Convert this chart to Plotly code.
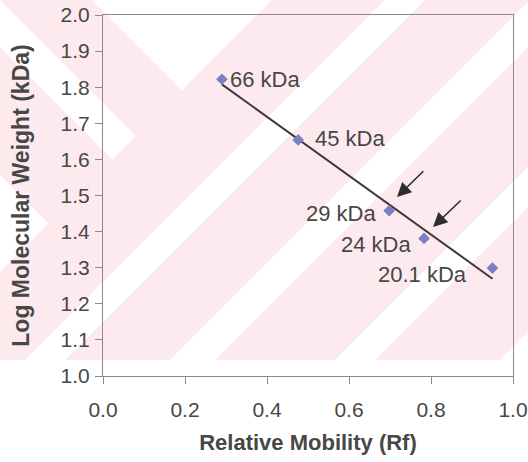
import numpy as np
import plotly.graph_objects as go

# ---- data ----
rf = [0.290, 0.476, 0.698, 0.783, 0.950]
log_mw = [1.822, 1.654, 1.458, 1.381, 1.299]
labels = ["66 kDa", "45 kDa", "29 kDa", "24 kDa", "20.1 kDa"]
x_ticks = [0.0, 0.2, 0.4, 0.6, 0.8, 1.0]
y_ticks = [1.0, 1.1, 1.2, 1.3, 1.4, 1.5, 1.6, 1.7, 1.8, 1.9, 2.0]
# arrow (head, tail) positions in data units
arrow_heads = [(0.717, 1.496), (0.805, 1.413)]
arrow_tails = [(0.785, 1.571), (0.876, 1.490)]

# ---- layout geometry ----
W, H = 528, 462
ML, MR, MT, MB = 103, 15, 15, 86
PW, PH = W - ML - MR, H - MT - MB

def P(px, py):
    return ((px - ML) / PW, 1 - (py - MT) / PH)

def clip(poly, a, b, c):
    # keep a*x + b*y <= c
    out = []
    n = len(poly)
    for i in range(n):
        p, q = poly[i], poly[(i + 1) % n]
        fp = a * p[0] + b * p[1] - c
        fq = a * q[0] + b * q[1] - c
        if fp <= 0:
            out.append(p)
        if (fp < 0 < fq) or (fq < 0 < fp):
            t = fp / (fp - fq)
            out.append((p[0] + t * (q[0] - p[0]), p[1] + t * (q[1] - p[1])))
    return out

RECT = [(0, 0), (W, 0), (W, 360), (0, 360)]
PINK = "rgb(253,234,238)"
WHITE = "white"

def path_shape(poly, color):
    pts = [P(x, y) for x, y in poly]
    d = "M " + " L ".join(f"{x:.4f},{y:.4f}" for x, y in pts) + " Z"
    return dict(type="path", path=d, xref="paper", yref="paper",
                fillcolor=color, line=dict(width=0), layer="below")

shapes = [path_shape(RECT, PINK)]
for c1, c2 in [(385, 425), (530, 575), (695, 735), (860, 900)]:
    poly = clip(RECT, -1, -1, -c1)
    poly = clip(poly, 1, 1, c2)
    if len(poly) >= 3:
        shapes.append(path_shape(poly, WHITE))
left = clip(RECT, 1, 1, 272)
shapes.append(path_shape(left, PINK))
shapes.append(path_shape(clip(left, -1, 1, -92), WHITE))
band = clip(clip(left, 1, -1, 0), -1, 1, 47)
shapes.append(path_shape(band, WHITE))
shapes.append(path_shape(clip(left, 1, -1, -175), WHITE))

FONT = "Liberation Sans, Arial, sans-serif"
TXT = "#474747"

fig = go.Figure()
coef = np.polyfit(rf, log_mw, 1)
xl = np.array([min(rf), max(rf)])
fig.add_trace(go.Scatter(x=xl, y=np.polyval(coef, xl), mode="lines",
                         line=dict(color="#3a3a3a", width=2), hoverinfo="skip"))
fig.add_trace(go.Scatter(x=rf, y=log_mw, mode="markers",
                         marker=dict(symbol="diamond", size=9, color="#7b7fc4"),
                         text=labels))

shifts = [(6, 0, "left"), (15, 1, "left"), (-11, -3, "right"), (-11, -6, "right"), (-24, -6, "right")]
annotations = []
for x, y, t, (dx, dy, anc) in zip(rf, log_mw, labels, shifts):
    annotations.append(dict(x=x, y=y, text=t, showarrow=False, xanchor=anc,
                            yanchor="middle", xshift=dx, yshift=dy,
                            font=dict(family=FONT, size=22, color=TXT)))
for (hx, hy), (tx, ty) in zip(arrow_heads, arrow_tails):
    annotations.append(dict(x=hx, y=hy, ax=tx, ay=ty, axref="x", ayref="y",
                            xref="x", yref="y", text="", showarrow=True,
                            arrowhead=2, arrowsize=1.9, arrowwidth=1.5,
                            arrowcolor="#2e2e2e"))

axis_common = dict(showline=True, linecolor="#8a8a8a", linewidth=1, mirror=True,
                   ticks="outside", ticklen=7, tickcolor="#8a8a8a", showgrid=False,
                   zeroline=False, tickformat=".1f", automargin=False,
                   tickfont=dict(family=FONT, size=21, color=TXT))

fig.update_layout(
    width=W, height=H,
    margin=dict(l=ML, r=MR, t=MT, b=MB),
    paper_bgcolor="white", plot_bgcolor="rgba(0,0,0,0)",
    showlegend=False,
    shapes=shapes,
    annotations=annotations,
    xaxis=dict(range=[0, 1], tickvals=x_ticks, ticklabelstandoff=8,
               title=dict(text="<b>Relative Mobility (Rf)</b>", standoff=14,
                          font=dict(family=FONT, size=22, color=TXT)),
               **axis_common),
    yaxis=dict(range=[1.0, 2.0], tickvals=y_ticks, ticklabelstandoff=1,
               title=dict(text="<b>Log Molecular Weight (kDa)</b>", standoff=24,
                          font=dict(family=FONT, size=23, color=TXT)),
               **axis_common),
)
fig.write_html("out.html", config={"displayModeBar": False},
               post_script="document.body.style.margin='0';document.body.style.overflow='hidden';")
